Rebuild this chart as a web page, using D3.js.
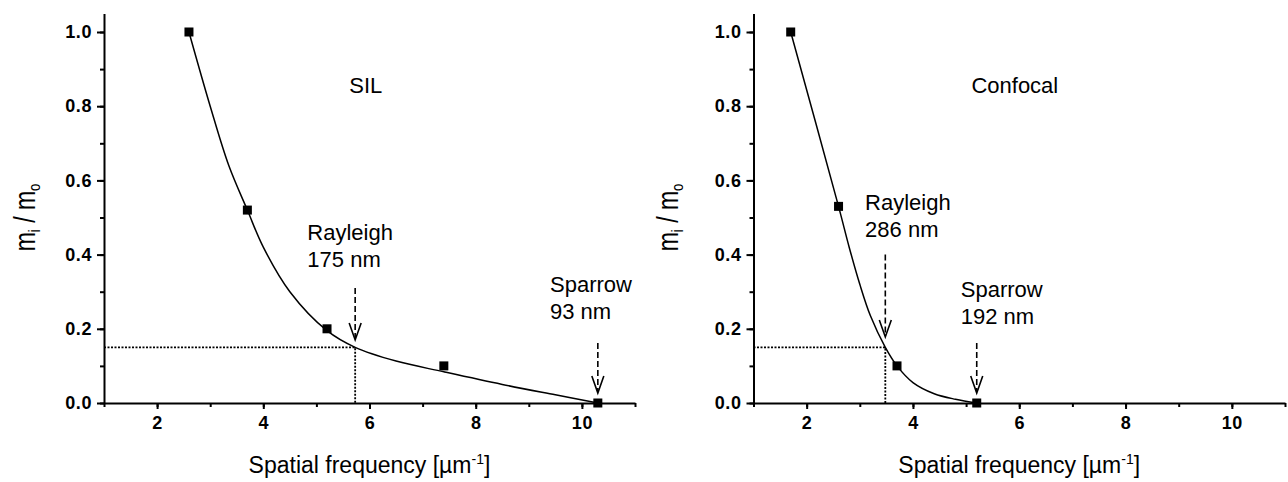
<!DOCTYPE html>
<meta charset="utf-8">
<style>
body { margin: 0; background: #fff; }
text { font-family: "Liberation Sans", Arial, sans-serif; fill: #000; }
.tick text { font-weight: bold; font-size: 18px; letter-spacing: 0.6px; }
.axis path, .axis line { stroke: #000; stroke-width: 2; }
.fit { fill: none; stroke: #000; stroke-width: 1.5; }
.guide { fill: none; stroke: #000; stroke-width: 1.8; stroke-dasharray: 2,1.5; }
.arrow { fill: none; stroke: #000; stroke-width: 1.6; }
</style>
<svg width="1288" height="482"></svg>
<script src="https://d3js.org/d3.v7.min.js"></script>
<script>

// tick values
var xTicks = [2, 4, 6, 8, 10];
var yTicks = [0, 0.2, 0.4, 0.6, 0.8, 1.0];

// SIL measured points
var silX = [2.6, 3.7, 5.2, 7.4, 10.3];
var silY = [1.0, 0.52, 0.2, 0.1, 0.0];
// SIL fitted curve
var silFitX = [2.6, 3.0, 3.35, 3.7, 4.0, 4.5, 5.2, 5.73, 6.5, 7.4, 8.5, 9.5, 10.3];
var silFitY = [1.0, 0.80, 0.64, 0.52, 0.42, 0.30, 0.195, 0.15, 0.113, 0.084, 0.05, 0.022, 0.0];

// Confocal measured points
var confX = [1.7, 2.6, 3.7, 5.2];
var confY = [1.0, 0.53, 0.1, 0.0];
// Confocal fitted curve
var confFitX = [1.7, 2.6, 2.8, 3.0, 3.2, 3.48, 3.7, 4.0, 4.4, 4.8, 5.2];
var confFitY = [1.0, 0.53, 0.42, 0.32, 0.235, 0.15, 0.10, 0.055, 0.025, 0.01, 0.0];

var threshold = 0.15;
var panelNames = ["SIL", "Confocal"];
var rayleighX = [5.73, 3.48];
var rayleighLabels = ["175 nm", "286 nm"];
var sparrowX = [10.3, 5.2];
var sparrowLabels = ["93 nm", "192 nm"];

var svg = d3.select("svg");

var panels = [
  {left: 104, right: 635, titleX: 5.62, rayText: [4.83, 0.44], rayArrow: [0.31, 0.17],
   spText: [9.4, 0.30], spArrow: [0.162, 0.027], yTitleOff: 69,
   px: silX, py: silY, fx: silFitX, fy: silFitY},
  {left: 753.5, right: 1285, titleX: 5.1, rayText: [3.1, 0.52], rayArrow: [0.4, 0.178],
   spText: [4.9, 0.287], spArrow: [0.162, 0.027], yTitleOff: 76,
   px: confX, py: confY, fx: confFitX, fy: confFitY}
];

panels.forEach(function(p, i) {
  var x = d3.scaleLinear().domain([1, 11]).range([p.left, p.right]);
  var y = d3.scaleLinear().domain([0, 1.05]).range([403, 403 - 1.05 * 371]);
  var g = svg.append("g");

  // minor ticks
  g.append("g").attr("class", "axis")
      .attr("transform", "translate(0,403)")
      .call(d3.axisBottom(x).tickValues(d3.range(1, 11.01, 1)).tickSize(4).tickFormat(""))
      .select(".domain").remove();
  g.append("g").attr("class", "axis")
      .attr("transform", "translate(" + p.left + ",0)")
      .call(d3.axisLeft(y).tickValues(d3.range(0, 1.001, 0.1)).tickSize(4).tickFormat(""))
      .select(".domain").remove();

  // major axes
  g.append("g").attr("class", "axis")
      .attr("transform", "translate(0,403)")
      .call(d3.axisBottom(x).tickValues(xTicks).tickSize(6).tickSizeOuter(0).tickPadding(7).tickFormat(d3.format("d")));
  g.append("g").attr("class", "axis")
      .attr("transform", "translate(" + p.left + ",0)")
      .call(d3.axisLeft(y).tickValues(yTicks).tickSize(7).tickSizeOuter(0).tickPadding(5).tickFormat(d3.format(".1f")));

  // dotted guide lines at threshold
  var rx = rayleighX[i];
  g.append("path").attr("class", "guide")
      .attr("d", d3.line()([[x(1), y(threshold)], [x(rx), y(threshold)], [x(rx), y(0)]]));

  // fitted curve
  var fit = d3.zip(p.fx, p.fy);
  g.append("path").attr("class", "fit")
      .attr("d", d3.line().curve(d3.curveCatmullRom.alpha(0.5))
        .x(function(d) { return x(d[0]); })
        .y(function(d) { return y(d[1]); })(fit));

  // points
  g.selectAll(".pt").data(d3.zip(p.px, p.py)).enter().append("rect")
      .attr("class", "pt")
      .attr("x", function(d) { return x(d[0]) - 4.5; })
      .attr("y", function(d) { return y(d[1]) - 4.5; })
      .attr("width", 9).attr("height", 9)
      .attr("fill", "#000");

  // arrows
  function arrow(ax, y0, y1) {
    var xa = x(ax), ya = y(y0), yb = y(y1);
    g.append("line").attr("class", "arrow")
        .attr("x1", xa).attr("x2", xa).attr("y1", ya).attr("y2", yb - 1)
        .attr("stroke-dasharray", "6,3");
    g.append("path").attr("class", "arrow")
        .attr("d", d3.line()([[xa - 6, yb - 17], [xa, yb], [xa + 6, yb - 17]]));
  }
  arrow(rx, p.rayArrow[0], p.rayArrow[1]);
  arrow(sparrowX[i], p.spArrow[0], p.spArrow[1]);

  // annotation text
  function label(pos, lines) {
    var t = g.append("text").attr("x", x(pos[0])).attr("y", y(pos[1])).style("font-size", "22px");
    lines.forEach(function(s, k) {
      t.append("tspan").attr("x", x(pos[0])).attr("dy", k ? 27 : 0).text(s);
    });
  }
  g.append("text").attr("x", x(p.titleX)).attr("y", y(0.836)).style("font-size", "22px").text(panelNames[i]);
  label(p.rayText, ["Rayleigh", rayleighLabels[i]]);
  label(p.spText, ["Sparrow", sparrowLabels[i]]);

  // axis titles
  var xt = g.append("text").attr("x", (p.left + p.right) / 2).attr("y", 473)
      .attr("text-anchor", "middle").style("font-size", "23px");
  xt.append("tspan").text("Spatial frequency [\u00b5m");
  xt.append("tspan").attr("dy", -9).style("font-size", "14px").text("-1");
  xt.append("tspan").attr("dy", 9).text("]");

  var yt = g.append("text")
      .attr("transform", "translate(" + (p.left - p.yTitleOff) + "," + y(0.5) + ") rotate(-90) scale(1,1.3)")
      .attr("text-anchor", "middle").style("font-size", "23px");
  yt.append("tspan").text("m");
  yt.append("tspan").attr("dy", 4).style("font-size", "13px").text("i");
  yt.append("tspan").attr("dy", -4).text(" / m");
  yt.append("tspan").attr("dy", 4).style("font-size", "13px").text("o");
});

</script>
